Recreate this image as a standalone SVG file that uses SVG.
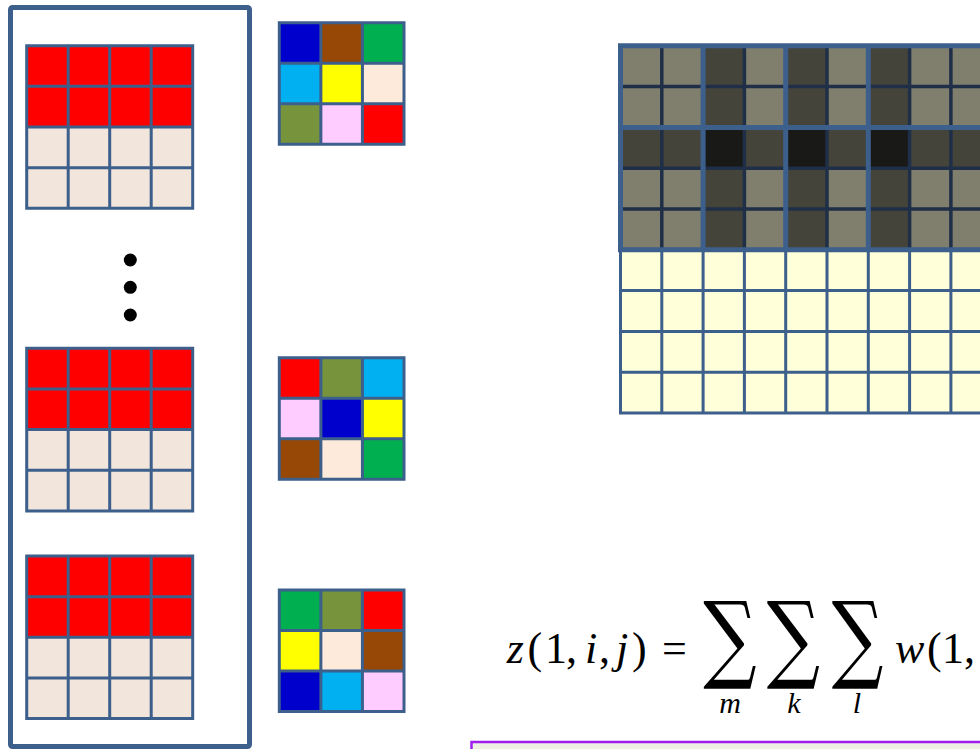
<svg xmlns="http://www.w3.org/2000/svg" xmlns:xlink="http://www.w3.org/1999/xlink" width="980" height="749" viewBox="0 0 980 749">
<style>
.frame{fill:none;stroke:#3D5F8C;stroke-width:5}
.gl{fill:none;stroke:#3D5F8C;stroke-width:3}
.navy{fill:none;stroke:#1F2F48;stroke-width:3.5}
.thick{fill:none;stroke:#3D5F8C;stroke-width:5}
.red{fill:#FF0000}.beige{fill:#F1E5DC}
.c-blue{fill:#0000CC}.c-brown{fill:#984806}.c-green{fill:#00B050}.c-cyan{fill:#00B0F0}.c-yellow{fill:#FFFF00}.c-peach{fill:#FDEADA}.c-olive{fill:#77933C}.c-pink{fill:#FFCCFF}.c-red{fill:#FF0000}
.gray{fill:#807F6E}.dark{fill:#45443B}.black{fill:#191917}.pale{fill:#FFFFD9}
.m{font-family:"Liberation Serif","DejaVu Serif",serif;font-size:44px;fill:#000}
.it{font-style:italic}
.sig{font-family:"DejaVu Serif","Liberation Serif",serif;font-size:96px;fill:#000}
.sub{font-family:"Liberation Serif","DejaVu Serif",serif;font-size:30px;font-style:italic;fill:#000}
</style>
<defs>
<g id="inputGrid">
<rect class="red" x="0" y="0" width="166" height="81.3"/>
<rect class="beige" x="0" y="81.3" width="166" height="81.3"/>
<path class="gl" d="M0 0H166V162.6H0Z M41.5 0V162.6 M83 0V162.6 M124.5 0V162.6 M0 40.65H166 M0 81.3H166 M0 121.95H166"/>
</g>
<path id="filterGrid" class="gl" d="M0 0H124.7V121.6H0Z M41.57 0V121.6 M83.13 0V121.6 M0 40.53H124.7 M0 81.07H124.7"/>
</defs>

<g id="input-stack">
<rect class="frame" x="10.5" y="7.5" width="239" height="739" rx="2"/>
</g>
<g id="input-1"><use xlink:href="#inputGrid" href="#inputGrid" transform="translate(26.7,45.7)"/></g>
<g id="dots">
<circle cx="130.3" cy="260" r="6.5" fill="#000"/>
<circle cx="130.3" cy="287.3" r="6.5" fill="#000"/>
<circle cx="130.3" cy="315" r="6.5" fill="#000"/>
</g>
<g id="input-2"><use xlink:href="#inputGrid" href="#inputGrid" transform="translate(26.7,348.3)"/></g>
<g id="input-3"><use xlink:href="#inputGrid" href="#inputGrid" transform="translate(26.7,556)"/></g>

<g id="filter-1" transform="translate(279.3,22.7)">
<rect class="c-blue" x="0" y="0" width="41.57" height="40.53"/>
<rect class="c-brown" x="41.57" y="0" width="41.57" height="40.53"/>
<rect class="c-green" x="83.13" y="0" width="41.57" height="40.53"/>
<rect class="c-cyan" x="0" y="40.53" width="41.57" height="40.53"/>
<rect class="c-yellow" x="41.57" y="40.53" width="41.57" height="40.53"/>
<rect class="c-peach" x="83.13" y="40.53" width="41.57" height="40.53"/>
<rect class="c-olive" x="0" y="81.07" width="41.57" height="40.53"/>
<rect class="c-pink" x="41.57" y="81.07" width="41.57" height="40.53"/>
<rect class="c-red" x="83.13" y="81.07" width="41.57" height="40.53"/>
<use xlink:href="#filterGrid" href="#filterGrid"/>
</g>
<g id="filter-2" transform="translate(279.3,357.7)">
<rect class="c-red" x="0" y="0" width="41.57" height="40.53"/>
<rect class="c-olive" x="41.57" y="0" width="41.57" height="40.53"/>
<rect class="c-cyan" x="83.13" y="0" width="41.57" height="40.53"/>
<rect class="c-pink" x="0" y="40.53" width="41.57" height="40.53"/>
<rect class="c-blue" x="41.57" y="40.53" width="41.57" height="40.53"/>
<rect class="c-yellow" x="83.13" y="40.53" width="41.57" height="40.53"/>
<rect class="c-brown" x="0" y="81.07" width="41.57" height="40.53"/>
<rect class="c-peach" x="41.57" y="81.07" width="41.57" height="40.53"/>
<rect class="c-green" x="83.13" y="81.07" width="41.57" height="40.53"/>
<use xlink:href="#filterGrid" href="#filterGrid"/>
</g>
<g id="filter-3" transform="translate(279.3,590)">
<rect class="c-green" x="0" y="0" width="41.57" height="40.53"/>
<rect class="c-olive" x="41.57" y="0" width="41.57" height="40.53"/>
<rect class="c-red" x="83.13" y="0" width="41.57" height="40.53"/>
<rect class="c-yellow" x="0" y="40.53" width="41.57" height="40.53"/>
<rect class="c-peach" x="41.57" y="40.53" width="41.57" height="40.53"/>
<rect class="c-brown" x="83.13" y="40.53" width="41.57" height="40.53"/>
<rect class="c-blue" x="0" y="81.07" width="41.57" height="40.53"/>
<rect class="c-cyan" x="41.57" y="81.07" width="41.57" height="40.53"/>
<rect class="c-pink" x="83.13" y="81.07" width="41.57" height="40.53"/>
<use xlink:href="#filterGrid" href="#filterGrid"/>
</g>

<g id="output-map">
<rect class="gray" x="620.5" y="45.8" width="380" height="204"/>
<rect class="dark" x="703.1" y="45.8" width="41.3" height="204"/>
<rect class="dark" x="785.7" y="45.8" width="41.3" height="204"/>
<rect class="dark" x="868.3" y="45.8" width="41.3" height="204"/>
<rect class="dark" x="620.5" y="127.4" width="380" height="40.8"/>
<rect class="black" x="703.1" y="127.4" width="41.3" height="40.8"/>
<rect class="black" x="785.7" y="127.4" width="41.3" height="40.8"/>
<rect class="black" x="868.3" y="127.4" width="41.3" height="40.8"/>
<rect class="pale" x="620.5" y="249.8" width="380" height="163.2"/>
<path class="gl" d="M620.5 249.8V413 M661.8 249.8V413 M703.1 249.8V413 M744.4 249.8V413 M785.7 249.8V413 M827 249.8V413 M868.3 249.8V413 M909.6 249.8V413 M950.9 249.8V413 M620.5 290.6H1000 M620.5 331.4H1000 M620.5 372.2H1000 M619 413H1000"/>
<path class="navy" d="M661.8 45.8V249.8 M744.4 45.8V249.8 M827 45.8V249.8 M909.6 45.8V249.8 M950.9 45.8V249.8 M620.5 86.6H1000 M620.5 168.2H1000 M620.5 209H1000"/>
<path class="thick" d="M620.5 43.3V252.3 M703.1 45.8V249.8 M785.7 45.8V249.8 M868.3 45.8V249.8 M618 45.8H1000 M618 127.4H1000 M618 249.8H1000"/>
</g>

<g id="formula">
<text class="m" y="663"><tspan class="it" x="506.7">z</tspan><tspan x="527.5">(</tspan><tspan x="545">1</tspan><tspan x="566">,</tspan><tspan class="it" x="585">i</tspan><tspan x="599">,</tspan><tspan class="it" x="616">j</tspan><tspan x="632">)</tspan><tspan x="662">=</tspan></text>
<text class="sig" x="703.3" y="670" textLength="53.4" lengthAdjust="spacingAndGlyphs">∑</text>
<text class="sig" x="766.7" y="670" textLength="53.3" lengthAdjust="spacingAndGlyphs">∑</text>
<text class="sig" x="831.7" y="670" textLength="51.6" lengthAdjust="spacingAndGlyphs">∑</text>
<text class="sub" x="730" y="713" text-anchor="middle">m</text>
<text class="sub" x="794" y="713" text-anchor="middle">k</text>
<text class="sub" x="857" y="713" text-anchor="middle">l</text>
<text class="m" y="663"><tspan class="it" x="895">w</tspan><tspan x="927">(</tspan><tspan x="942">1</tspan><tspan x="964">,</tspan></text>
</g>

<g id="note-box">
<rect x="471.5" y="742" width="530" height="30" fill="#EEF1E1" stroke="#A020F0" stroke-width="2.5"/>
</g>
</svg>
